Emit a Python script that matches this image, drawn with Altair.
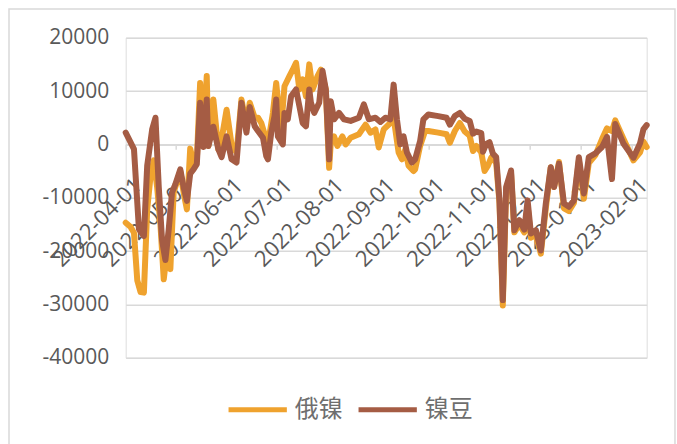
import altair as alt
import pandas as pd

# Day offsets from 2022-04-01 and the daily values for each series
START = "2022-04-01"

ru_days = [0, 3, 5, 7, 9, 11, 13, 15, 17, 19, 21, 23, 25, 27, 29, 31, 33, 35, 37, 39,
           41, 43, 45, 47, 49, 50, 53, 56, 58, 61, 64, 67, 70, 73, 75, 78, 80, 82, 85, 86,
           89, 91, 93, 94, 96, 99, 101, 103, 105, 107, 109, 111, 113, 116, 118, 121, 123, 124, 126, 128,
           131, 133, 136, 141, 145, 148, 151, 153, 156, 160, 162, 165, 167, 169, 171, 174, 175, 178, 181, 183,
           189, 194, 196, 199, 202, 205, 208, 210, 212, 215, 217, 219, 221, 224, 226, 228, 230, 233, 235, 238,
           241, 243, 245, 248, 251, 254, 257, 259, 262, 265, 268, 271, 274, 277, 280, 284, 288, 291, 294, 296,
           301, 307, 311, 313, 315]
ru_vals = [-14700, -15500, -16600, -25500, -27700, -27800, -12200, -6000, -3000, -8000,
           -15000, -25300, -20000, -23400, -9000, -7000, -5000, -9000, -12200, -800,
           -3500, -3000, 11500, 1500, 12800, -300, 8400, -900, 1000, 6500,
           0, -1500, 8400, 3500, 7800, 5000, 5000, 4000, 900, 0,
           5900, 11500, 5300, 3000, 10900, 12800, 14000, 15300, 10300, 12200,
           9000, 15000, 10300, 12800, 14000, 10300, -4400, 300, 1500, -300,
           1500, 0, 1250, 1900, 3700, 2200, 2800, -600, 2800, 4000,
           5000, -1500, -2800, -1000, -4000, -5000, -4700, -300, 2500, 2500,
           2200, 1900, 300, 2500, 4000, 2400, 1600, -1250, -300, -1500,
           -5000, -4000, -2500, -3400, -11000, -30200, -9000, -5500, -16500, -15000,
           -16500, -11500, -17500, -17000, -20500, -12000, -4300, -8000, -3300, -12000,
           -12500, -11000, -3000, -10200, -3500, -2000, 1000, 3000, 2500, 4500,
           1000, -3000, -1500, 500, -500]

bean_days = [0, 5, 8, 11, 13, 16, 18, 20, 22, 24, 26, 28, 30, 33, 35, 37, 39, 41, 43, 45,
             47, 49, 50, 53, 56, 58, 61, 64, 67, 70, 73, 75, 78, 80, 83, 85, 86, 88, 90, 91,
             92, 95, 96, 98, 100, 103, 105, 107, 109, 111, 112, 114, 117, 119, 121, 123, 124, 126, 129, 132,
             136, 141, 144, 147, 151, 154, 157, 160, 162, 164, 166, 168, 170, 173, 175, 178, 180, 183, 189, 194,
             196, 199, 202, 205, 208, 210, 212, 215, 216, 218, 220, 222, 224, 226, 228, 230, 233, 235, 238, 241,
             243, 245, 248, 251, 254, 257, 259, 262, 265, 268, 271, 274, 277, 280, 284, 288, 291, 294, 296, 301,
             307, 311, 313, 315]
bean_vals = [2200, -900, -15900, -17200, -4000, 2800, 5000, -8000, -18000, -21700,
             -16000, -9000, -7500, -4700, -8000, -10600, -5500, -4700, -3700, 7800,
             -500, 8400, -300, 3300, -900, -2400, 1500, -2800, -3400, 7800,
             2200, 7000, 3400, 2500, 1250, -2200, -2800, 2200, 5300, 8400,
             1500, 0, 5900, 4700, 9000, 10300, 7200, 4000, 3400, 10300,
             7800, 5900, 7800, 13800, 10300, -2800, 8100, 4700, 5900, 4700,
             4400, 5000, 7500, 4700, 5000, 4200, 5000, 4700, 11200, 4700,
             0, 1500, -1500, -3400, -2800, 600, 4700, 5600, 5300, 5000,
             3700, 5300, 5900, 4800, 4400, 2000, 2400, 2100, -1400, 100,
             400, -1750, -2400, -10500, -29200, -8000, -4900, -16100, -14200, -16000,
             -10500, -16700, -16100, -19900, -11100, -4300, -8000, -3600, -11100, -11700,
             -10500, -2400, -9200, -2400, -1700, -500, 1400, -6500, 3800, 100,
             -2500, 200, 2800, 3600]

SERIES = ["俄镍", "镍豆"]
COLORS = ["#EFA22E", "#A55C44"]
MONTH_TICKS = ["2022-04-01", "2022-05-01", "2022-06-01", "2022-07-01", "2022-08-01",
               "2022-09-01", "2022-10-01", "2022-11-01", "2022-12-01", "2023-01-01",
               "2023-02-01"]
X_DOMAIN = ["2022-04-01", "2023-02-10"]
Y_TICKS = [20000, 10000, 0, -10000, -20000, -30000, -40000]


def to_dates(days):
    return (pd.Timestamp(START) + pd.to_timedelta(days, unit="D")).strftime("%Y-%m-%d")


df = pd.concat([
    pd.DataFrame({"date": to_dates(ru_days), "value": ru_vals, "series": SERIES[0]}),
    pd.DataFrame({"date": to_dates(bean_days), "value": bean_vals, "series": SERIES[1]}),
], ignore_index=True)

GRID = "#D9D9D9"
TEXT = "#595959"

lines = alt.Chart(df).mark_line(strokeWidth=6, strokeJoin="round", strokeCap="round").encode(
    x=alt.X(
        "date:T",
        scale=alt.Scale(type="utc", domain=X_DOMAIN),
        axis=alt.Axis(
            title=None,
            values=MONTH_TICKS,
            labelExpr="utcFormat(datum.value, '%Y-%m-%d')",
            grid=False,
            domainColor=GRID,
            domainWidth=1.5,
            tickColor=GRID,
            tickWidth=1.5,
            tickSize=5,
            labelAngle=315,
            labelAlign="right",
            labelBaseline="middle",
            labelPadding=32,
            labelOffset=12,
            labelFont="Open Sans",
            labelFontSize=22,
            labelColor=TEXT,
            labelOverlap=False,
            labelBound=False,
            offset=-213.33,
        ),
    ),
    y=alt.Y(
        "value:Q",
        scale=alt.Scale(domain=[-40000, 20000], nice=False),
        axis=alt.Axis(
            title=None,
            values=Y_TICKS,
            labelExpr="'' + datum.value",
            domain=False,
            ticks=False,
            gridColor=GRID,
            gridWidth=1.5,
            labelPadding=17,
            labelFont="Open Sans",
            labelFontSize=21,
            labelColor=TEXT,
        ),
    ),
    color=alt.Color(
        "series:N",
        scale=alt.Scale(domain=SERIES, range=COLORS),
        legend=alt.Legend(
            title=None,
            orient="none",
            direction="horizontal",
            legendX=100,
            legendY=340,
            symbolType="stroke",
            symbolSize=3400,
            symbolStrokeWidth=5,
            labelFont="Noto Sans CJK SC",
            labelFontSize=24,
            labelColor="#6E6E6E",
            labelOffset=5,
            columnPadding=5,
            padding=0,
        ),
    ),
    order="date:T",
)

frame = alt.Chart(alt.Data(values=[{}])).mark_rect(
    fill=None, stroke=GRID, strokeWidth=1.5
).encode(
    x=alt.value(-116.7), x2=alt.value(549.3), y=alt.value(-28.7), y2=alt.value(460)
)

chart = alt.layer(frame, lines).properties(
    width=521,
    height=320,
    autosize=alt.AutoSizeParams(type="none"),
    padding={"left": 125.7, "top": 37.7, "right": 30, "bottom": 86},
).configure_view(stroke=None).configure(background="white")

chart.save("out.html", embed_options={"renderer": "svg", "actions": False})
